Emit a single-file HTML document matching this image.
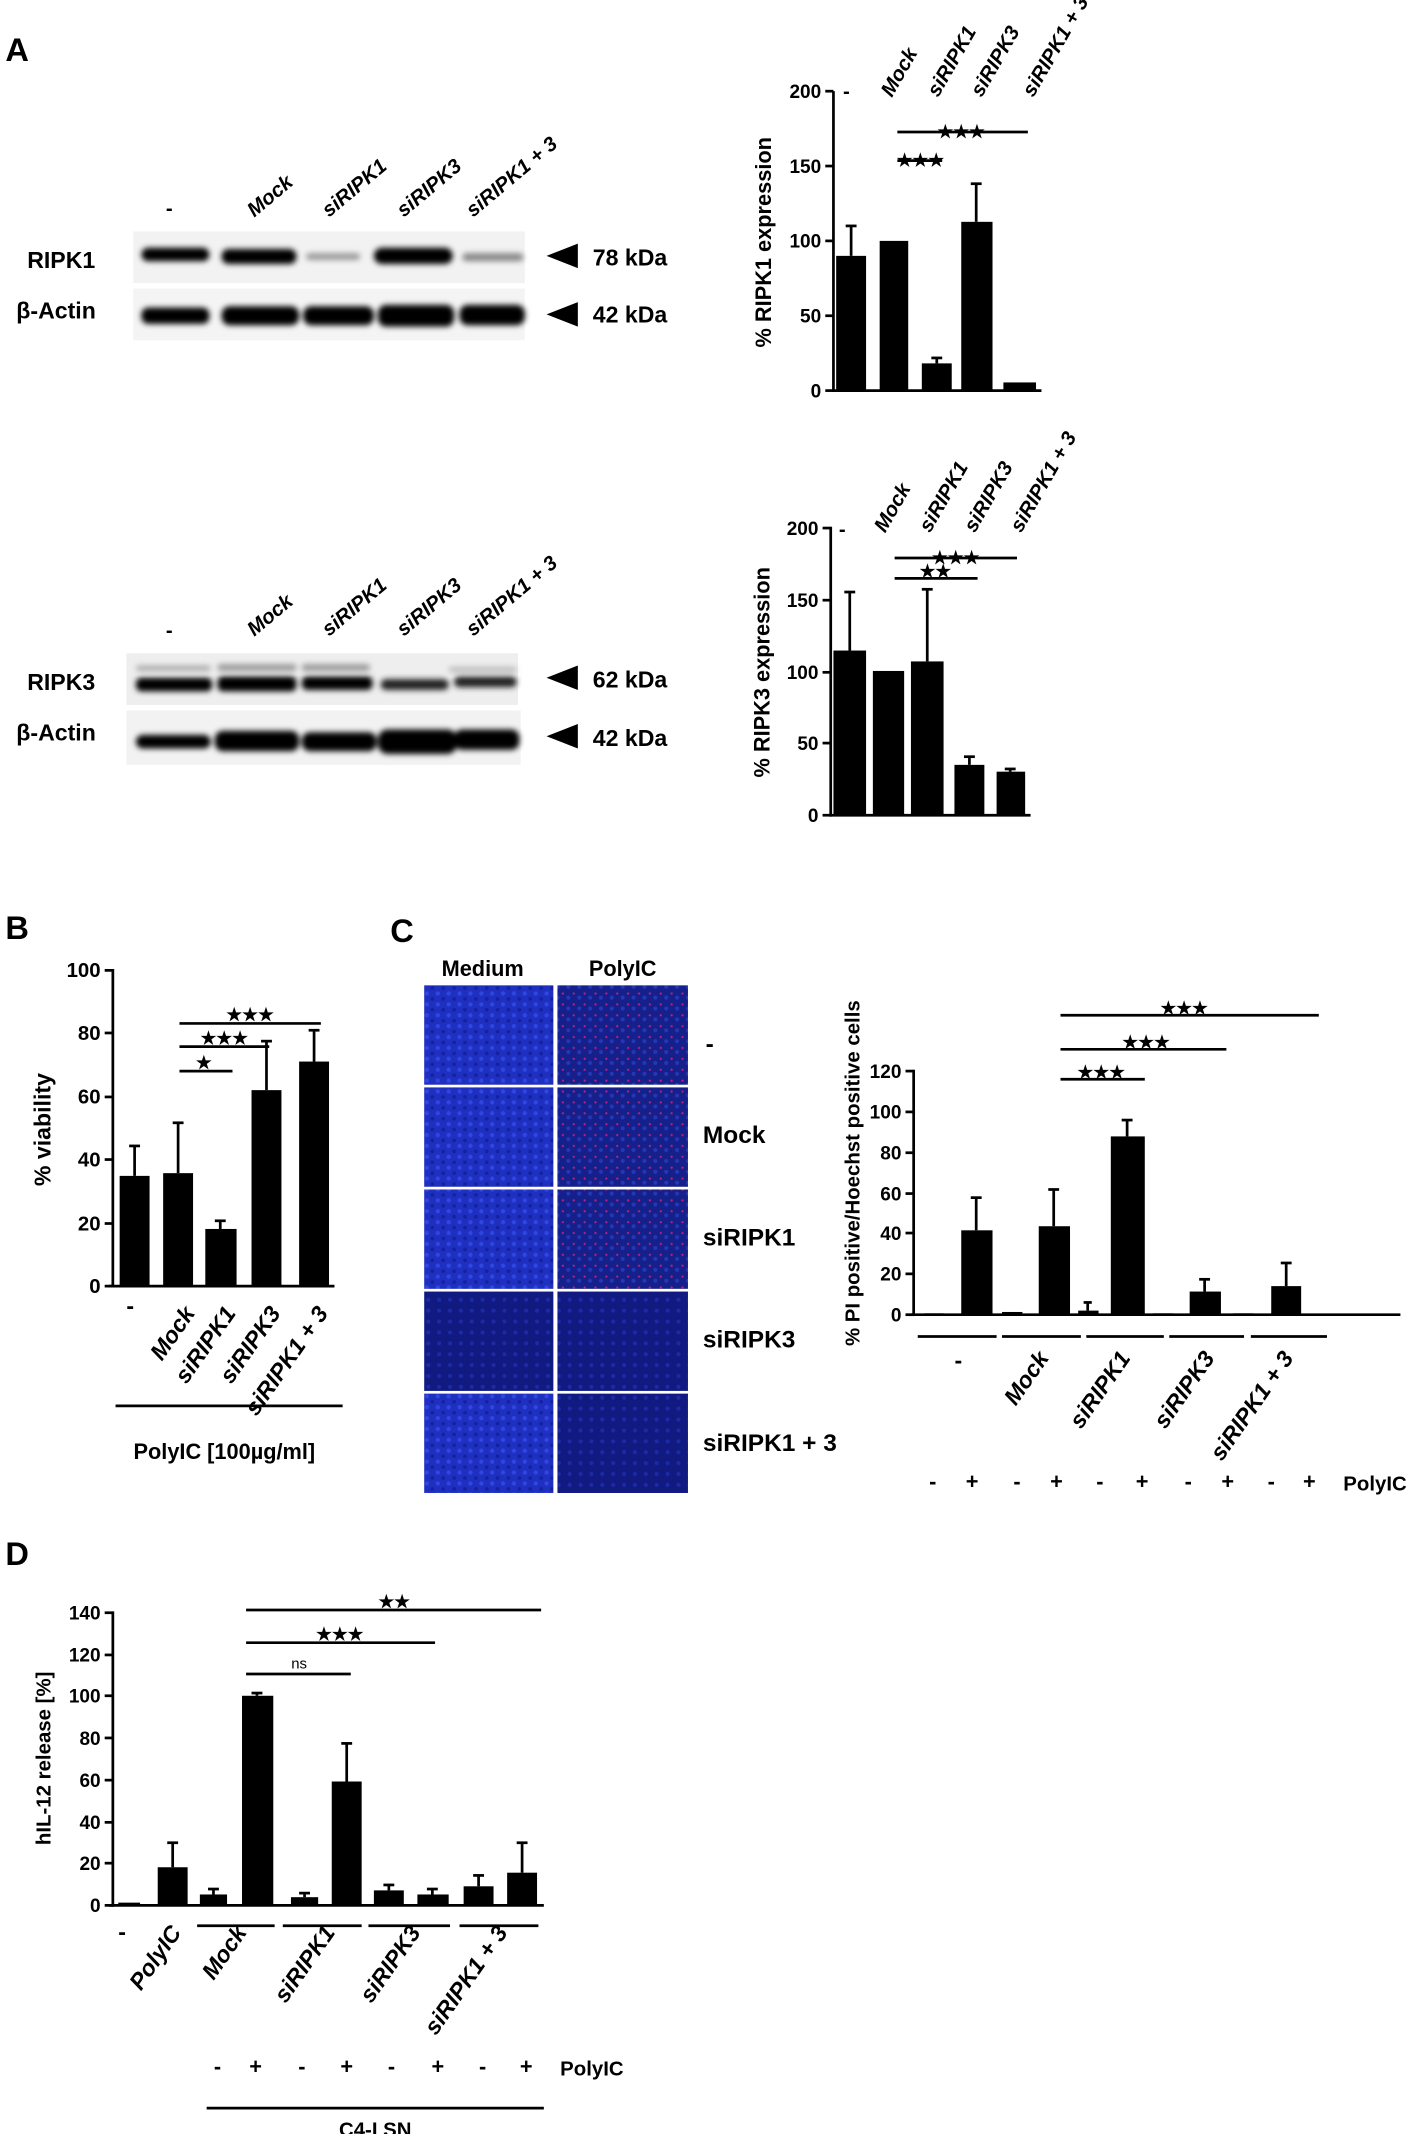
<!DOCTYPE html>
<html><head><meta charset="utf-8"><style>
html,body{margin:0;padding:0;background:#fff}
svg{display:block}
text{font-family:"Liberation Sans",Arial,sans-serif;font-weight:bold;fill:#000}
.it{font-style:italic}
</style></head><body>
<svg width="1414" height="2134" viewBox="0 0 1040 1568" preserveAspectRatio="none" xmlns="http://www.w3.org/2000/svg">
<defs>
<filter id="bl" x="-20%" y="-50%" width="140%" height="200%"><feGaussianBlur stdDeviation="2.2"/></filter>
<pattern id="cells" width="8" height="8" patternUnits="userSpaceOnUse"><rect width="8" height="8" fill="#1f2fc0"/><circle cx="2" cy="2" r="1.6" fill="#3046e0"/><circle cx="6" cy="6" r="1.4" fill="#1322a0"/></pattern>
<pattern id="cells2" width="8" height="8" patternUnits="userSpaceOnUse"><rect width="8" height="8" fill="#15208a"/><circle cx="2" cy="5" r="1.5" fill="#2536b8"/><circle cx="6" cy="2" r="0.8" fill="#c02080"/></pattern>
<pattern id="cells3" width="8" height="8" patternUnits="userSpaceOnUse"><rect width="8" height="8" fill="#101a80"/><circle cx="3" cy="3" r="1.5" fill="#1c2aa8"/></pattern>
</defs>

<!-- Panel A -->
<text x="4" y="45" font-size="24">A</text>
<g font-size="15">
<text x="122" y="158">-</text>
<text class="it" transform="translate(187,160) rotate(-40)">Mock</text>
<text class="it" transform="translate(242,160) rotate(-40)">siRIPK1</text>
<text class="it" transform="translate(297,160) rotate(-40)">siRIPK3</text>
<text class="it" transform="translate(348,160) rotate(-40)">siRIPK1 + 3</text>
</g>
<rect x="98" y="170" width="288" height="38" fill="#f2f2f2"/>
<rect x="98" y="212" width="288" height="38" fill="#f4f4f4"/>
<g filter="url(#bl)" fill="#000">
<rect x="104" y="182" width="50" height="10" rx="5"/>
<rect x="163" y="183" width="55" height="11" rx="5"/>
<rect x="225" y="186" width="40" height="5" rx="3" fill="#999"/>
<rect x="275" y="182" width="58" height="12" rx="6"/>
<rect x="340" y="186" width="45" height="6" rx="3" fill="#888"/>
<rect x="104" y="226" width="50" height="12" rx="5"/>
<rect x="163" y="225" width="57" height="14" rx="6"/>
<rect x="223" y="225" width="52" height="14" rx="6"/>
<rect x="278" y="224" width="56" height="16" rx="6"/>
<rect x="338" y="224" width="48" height="15" rx="6"/>
</g>
<g font-size="17">
<text x="20" y="197">RIPK1</text>
<text x="12" y="234">β-Actin</text>
<text x="436" y="195">78 kDa</text>
<text x="436" y="237">42 kDa</text>
</g>
<polygon points="402,188 425,179 425,197"/>
<polygon points="402,231 425,222 425,240"/>

<!-- blot 2 -->
<g font-size="15">
<text x="122" y="468">-</text>
<text class="it" transform="translate(187,468) rotate(-40)">Mock</text>
<text class="it" transform="translate(242,468) rotate(-40)">siRIPK1</text>
<text class="it" transform="translate(297,468) rotate(-40)">siRIPK3</text>
<text class="it" transform="translate(348,468) rotate(-40)">siRIPK1 + 3</text>
</g>
<rect x="93" y="480" width="288" height="38" fill="#eeeeee"/>
<rect x="93" y="522" width="290" height="40" fill="#f2f2f2"/>
<g filter="url(#bl)" fill="#000">
<rect x="100" y="489" width="55" height="4" rx="2" fill="#aaa"/>
<rect x="160" y="488" width="58" height="5" rx="2" fill="#999"/>
<rect x="222" y="488" width="50" height="5" rx="2" fill="#999"/>
<rect x="330" y="490" width="50" height="4" rx="2" fill="#bbb"/>
<rect x="100" y="498" width="56" height="10" rx="4"/>
<rect x="160" y="497" width="58" height="11" rx="4"/>
<rect x="222" y="497" width="52" height="10" rx="4"/>
<rect x="280" y="499" width="50" height="8" rx="4" fill="#222"/>
<rect x="334" y="497" width="46" height="8" rx="4" fill="#222"/>
<rect x="100" y="540" width="55" height="10" rx="5"/>
<rect x="158" y="537" width="62" height="15" rx="6"/>
<rect x="222" y="538" width="55" height="14" rx="6"/>
<rect x="278" y="536" width="58" height="18" rx="7"/>
<rect x="334" y="536" width="48" height="15" rx="6"/>
</g>
<g font-size="17">
<text x="20" y="507">RIPK3</text>
<text x="12" y="544">β-Actin</text>
<text x="436" y="505">62 kDa</text>
<text x="436" y="548">42 kDa</text>
</g>
<polygon points="402,498 425,489 425,507"/>
<polygon points="402,541 425,532 425,550"/>

<!-- Chart A1 -->
<g stroke="#000" stroke-width="2" fill="none">
<line x1="613" y1="67" x2="613" y2="288"/>
<line x1="612" y1="287" x2="766" y2="287"/>
<line x1="607" y1="67" x2="613" y2="67"/><line x1="607" y1="122" x2="613" y2="122"/><line x1="607" y1="177" x2="613" y2="177"/><line x1="607" y1="232" x2="613" y2="232"/><line x1="607" y1="287" x2="613" y2="287"/>
<line x1="660" y1="97" x2="756" y2="97"/><line x1="660" y1="118" x2="693" y2="118"/>
<line x1="626" y1="188" x2="626" y2="166"/><line x1="622" y1="166" x2="630" y2="166"/>
<line x1="718" y1="163" x2="718" y2="135"/><line x1="714" y1="135" x2="722" y2="135"/>
<line x1="689" y1="267" x2="689" y2="263"/><line x1="685" y1="263" x2="693" y2="263"/>
</g>
<g fill="#000">
<rect x="615" y="188" width="22" height="99"/>
<rect x="647" y="177" width="21" height="110"/>
<rect x="678" y="267" width="22" height="20"/>
<rect x="707" y="163" width="23" height="124"/>
<rect x="738" y="281" width="24" height="6"/>
</g>
<g font-size="14" text-anchor="end">
<text x="604" y="72">200</text><text x="604" y="127">150</text><text x="604" y="182">100</text><text x="604" y="237">50</text><text x="604" y="292">0</text>
</g>
<g font-size="13" text-anchor="middle"><text x="707" y="101">★★★</text><text x="677" y="122">★★★</text></g>
<text font-size="16" text-anchor="middle" transform="translate(567,178) rotate(-90)">% RIPK1 expression</text>
<g font-size="15">
<text x="620" y="72">-</text>
<text class="it" transform="translate(656,72) rotate(-60)">Mock</text>
<text class="it" transform="translate(690,72) rotate(-60)">siRIPK1</text>
<text class="it" transform="translate(722,72) rotate(-60)">siRIPK3</text>
<text class="it" transform="translate(760,72) rotate(-60)">siRIPK1 + 3</text>
</g>

<!-- Chart A2 -->
<g stroke="#000" stroke-width="2" fill="none">
<line x1="611" y1="387" x2="611" y2="600"/>
<line x1="610" y1="599" x2="758" y2="599"/>
<line x1="605" y1="388" x2="611" y2="388"/><line x1="605" y1="441" x2="611" y2="441"/><line x1="605" y1="494" x2="611" y2="494"/><line x1="605" y1="546" x2="611" y2="546"/><line x1="605" y1="599" x2="611" y2="599"/>
<line x1="658" y1="410" x2="748" y2="410"/><line x1="658" y1="425" x2="719" y2="425"/>
<line x1="625" y1="478" x2="625" y2="435"/><line x1="621" y1="435" x2="629" y2="435"/>
<line x1="682" y1="486" x2="682" y2="433"/><line x1="678" y1="433" x2="686" y2="433"/>
<line x1="713" y1="562" x2="713" y2="556"/><line x1="709" y1="556" x2="717" y2="556"/>
<line x1="743" y1="567" x2="743" y2="565"/><line x1="739" y1="565" x2="747" y2="565"/>
</g>
<g fill="#000">
<rect x="613" y="478" width="24" height="121"/>
<rect x="642" y="493" width="23" height="106"/>
<rect x="670" y="486" width="24" height="113"/>
<rect x="702" y="562" width="22" height="37"/>
<rect x="733" y="567" width="21" height="32"/>
</g>
<g font-size="14" text-anchor="end">
<text x="602" y="393">200</text><text x="602" y="446">150</text><text x="602" y="499">100</text><text x="602" y="551">50</text><text x="602" y="604">0</text>
</g>
<g font-size="13" text-anchor="middle"><text x="703" y="414">★★★</text><text x="688" y="424">★★</text></g>
<text font-size="16" text-anchor="middle" transform="translate(566,494) rotate(-90)">% RIPK3 expression</text>
<g font-size="15">
<text x="617" y="394">-</text>
<text class="it" transform="translate(651,392) rotate(-60)">Mock</text>
<text class="it" transform="translate(684,392) rotate(-60)">siRIPK1</text>
<text class="it" transform="translate(717,392) rotate(-60)">siRIPK3</text>
<text class="it" transform="translate(751,392) rotate(-60)">siRIPK1 + 3</text>
</g>

<!-- Panel B -->
<text x="4" y="690" font-size="24">B</text>
<g stroke="#000" stroke-width="2" fill="none">
<line x1="83" y1="712" x2="83" y2="946"/>
<line x1="80" y1="945" x2="246" y2="945"/>
<line x1="77" y1="713" x2="83" y2="713"/><line x1="77" y1="759" x2="83" y2="759"/><line x1="77" y1="806" x2="83" y2="806"/><line x1="77" y1="852" x2="83" y2="852"/><line x1="77" y1="899" x2="83" y2="899"/><line x1="77" y1="945" x2="83" y2="945"/>
<line x1="132" y1="752" x2="236" y2="752"/><line x1="132" y1="769" x2="198" y2="769"/><line x1="132" y1="787" x2="171" y2="787"/>
<line x1="99" y1="864" x2="99" y2="842"/><line x1="95" y1="842" x2="103" y2="842"/>
<line x1="131" y1="862" x2="131" y2="825"/><line x1="127" y1="825" x2="135" y2="825"/>
<line x1="162" y1="903" x2="162" y2="897"/><line x1="158" y1="897" x2="166" y2="897"/>
<line x1="196" y1="801" x2="196" y2="765"/><line x1="192" y1="765" x2="200" y2="765"/>
<line x1="231" y1="780" x2="231" y2="757"/><line x1="227" y1="757" x2="235" y2="757"/>
<line x1="85" y1="1033" x2="252" y2="1033"/>
</g>
<g fill="#000">
<rect x="88" y="864" width="22" height="81"/>
<rect x="120" y="862" width="22" height="83"/>
<rect x="151" y="903" width="23" height="42"/>
<rect x="185" y="801" width="22" height="144"/>
<rect x="220" y="780" width="22" height="165"/>
</g>
<g font-size="15" text-anchor="end">
<text x="74" y="718">100</text><text x="74" y="764">80</text><text x="74" y="811">60</text><text x="74" y="857">40</text><text x="74" y="904">20</text><text x="74" y="950">0</text>
</g>
<g font-size="13" text-anchor="middle"><text x="184" y="750">★★★</text><text x="165" y="767">★★★</text><text x="150" y="785">★</text></g>
<text font-size="17" text-anchor="middle" transform="translate(37,830) rotate(-90)">% viability</text>
<g font-size="17">
<text x="93" y="965">-</text>
<text class="it" text-anchor="end" transform="translate(144,965) rotate(-55)">Mock</text>
<text class="it" text-anchor="end" transform="translate(174,965) rotate(-55)">siRIPK1</text>
<text class="it" text-anchor="end" transform="translate(207,965) rotate(-55)">siRIPK3</text>
<text class="it" text-anchor="end" transform="translate(242,965) rotate(-55)">siRIPK1 + 3</text>
</g>
<text x="165" y="1072" font-size="16" text-anchor="middle">PolyIC [100µg/ml]</text>

<!-- Panel C -->
<text x="287" y="692" font-size="24">C</text>
<text x="355" y="717" font-size="16" text-anchor="middle">Medium</text>
<text x="458" y="717" font-size="16" text-anchor="middle">PolyIC</text>
<rect x="311" y="723" width="196" height="375" fill="#fff"/>
<rect x="312" y="724" width="95" height="73" fill="url(#cells)"/>
<rect x="410" y="724" width="96" height="73" fill="url(#cells2)"/>
<rect x="312" y="799" width="95" height="73" fill="url(#cells)"/>
<rect x="410" y="799" width="96" height="73" fill="url(#cells2)"/>
<rect x="312" y="874" width="95" height="73" fill="url(#cells)"/>
<rect x="410" y="874" width="96" height="73" fill="url(#cells2)"/>
<rect x="312" y="949" width="95" height="73" fill="url(#cells3)"/>
<rect x="410" y="949" width="96" height="73" fill="url(#cells3)"/>
<rect x="312" y="1024" width="95" height="73" fill="url(#cells)"/>
<rect x="410" y="1024" width="96" height="73" fill="url(#cells3)"/>
<g font-size="18">
<text x="519" y="773">-</text>
<text x="517" y="840">Mock</text>
<text x="517" y="915">siRIPK1</text>
<text x="517" y="990">siRIPK3</text>
<text x="517" y="1066">siRIPK1 + 3</text>
</g>
<g stroke="#000" stroke-width="2" fill="none">
<line x1="672" y1="786" x2="672" y2="967"/>
<line x1="670" y1="966" x2="1030" y2="966"/>
<line x1="666" y1="787" x2="672" y2="787"/><line x1="666" y1="817" x2="672" y2="817"/><line x1="666" y1="847" x2="672" y2="847"/><line x1="666" y1="877" x2="672" y2="877"/><line x1="666" y1="906" x2="672" y2="906"/><line x1="666" y1="936" x2="672" y2="936"/><line x1="666" y1="966" x2="672" y2="966"/>
<line x1="780" y1="746" x2="970" y2="746"/><line x1="780" y1="771" x2="902" y2="771"/><line x1="780" y1="793" x2="842" y2="793"/>
<line x1="718" y1="904" x2="718" y2="880"/><line x1="714" y1="880" x2="722" y2="880"/>
<line x1="775" y1="901" x2="775" y2="874"/><line x1="771" y1="874" x2="779" y2="874"/>
<line x1="800" y1="963" x2="800" y2="957"/><line x1="797" y1="957" x2="803" y2="957"/>
<line x1="829" y1="835" x2="829" y2="823"/><line x1="825" y1="823" x2="833" y2="823"/>
<line x1="886" y1="949" x2="886" y2="940"/><line x1="882" y1="940" x2="890" y2="940"/>
<line x1="946" y1="945" x2="946" y2="928"/><line x1="942" y1="928" x2="950" y2="928"/>
<line x1="675" y1="982" x2="733" y2="982"/><line x1="737" y1="982" x2="795" y2="982"/><line x1="799" y1="982" x2="856" y2="982"/><line x1="860" y1="982" x2="915" y2="982"/><line x1="920" y1="982" x2="976" y2="982"/>
</g>
<g fill="#000">
<rect x="680" y="965" width="14" height="1"/>
<rect x="707" y="904" width="23" height="62"/>
<rect x="737" y="964" width="15" height="2"/>
<rect x="764" y="901" width="23" height="65"/>
<rect x="793" y="963" width="15" height="3"/>
<rect x="817" y="835" width="25" height="131"/>
<rect x="848" y="965" width="15" height="1"/>
<rect x="875" y="949" width="23" height="17"/>
<rect x="907" y="965" width="15" height="1"/>
<rect x="935" y="945" width="22" height="21"/>
</g>
<g font-size="14" text-anchor="end">
<text x="663" y="792">120</text><text x="663" y="822">100</text><text x="663" y="852">80</text><text x="663" y="882">60</text><text x="663" y="911">40</text><text x="663" y="941">20</text><text x="663" y="971">0</text>
</g>
<g font-size="13" text-anchor="middle"><text x="871" y="745">★★★</text><text x="843" y="770">★★★</text><text x="810" y="792">★★★</text></g>
<text font-size="15" text-anchor="middle" transform="translate(632,862) rotate(-90)">% PI positive/Hoechst positive cells</text>
<g font-size="17">
<text x="702" y="1005">-</text>
<text class="it" text-anchor="end" transform="translate(772,998) rotate(-55)">Mock</text>
<text class="it" text-anchor="end" transform="translate(832,998) rotate(-55)">siRIPK1</text>
<text class="it" text-anchor="end" transform="translate(894,998) rotate(-55)">siRIPK3</text>
<text class="it" text-anchor="end" transform="translate(952,998) rotate(-55)">siRIPK1 + 3</text>
</g>
<g font-size="16" text-anchor="middle">
<text x="686" y="1094">-</text><text x="715" y="1094">+</text><text x="748" y="1094">-</text><text x="777" y="1094">+</text><text x="809" y="1094">-</text><text x="840" y="1094">+</text><text x="874" y="1094">-</text><text x="903" y="1094">+</text><text x="935" y="1094">-</text><text x="963" y="1094">+</text>
</g>
<text x="988" y="1095" font-size="15">PolyIC</text>

<!-- Panel D -->
<text x="4" y="1150" font-size="24">D</text>
<g stroke="#000" stroke-width="2" fill="none">
<line x1="83" y1="1184" x2="83" y2="1401"/>
<line x1="80" y1="1400" x2="400" y2="1400"/>
<line x1="77" y1="1185" x2="83" y2="1185"/><line x1="77" y1="1216" x2="83" y2="1216"/><line x1="77" y1="1246" x2="83" y2="1246"/><line x1="77" y1="1277" x2="83" y2="1277"/><line x1="77" y1="1308" x2="83" y2="1308"/><line x1="77" y1="1339" x2="83" y2="1339"/><line x1="77" y1="1369" x2="83" y2="1369"/><line x1="77" y1="1400" x2="83" y2="1400"/>
<line x1="181" y1="1183" x2="398" y2="1183"/><line x1="181" y1="1207" x2="320" y2="1207"/><line x1="181" y1="1230" x2="258" y2="1230"/>
<line x1="127" y1="1372" x2="127" y2="1354"/><line x1="123" y1="1354" x2="131" y2="1354"/>
<line x1="157" y1="1392" x2="157" y2="1388"/><line x1="153" y1="1388" x2="161" y2="1388"/>
<line x1="189" y1="1246" x2="189" y2="1244"/><line x1="185" y1="1244" x2="193" y2="1244"/>
<line x1="224" y1="1394" x2="224" y2="1391"/><line x1="220" y1="1391" x2="228" y2="1391"/>
<line x1="255" y1="1309" x2="255" y2="1281"/><line x1="251" y1="1281" x2="259" y2="1281"/>
<line x1="286" y1="1389" x2="286" y2="1385"/><line x1="282" y1="1385" x2="290" y2="1385"/>
<line x1="318" y1="1392" x2="318" y2="1388"/><line x1="314" y1="1388" x2="322" y2="1388"/>
<line x1="352" y1="1386" x2="352" y2="1378"/><line x1="348" y1="1378" x2="356" y2="1378"/>
<line x1="384" y1="1376" x2="384" y2="1354"/><line x1="380" y1="1354" x2="388" y2="1354"/>
<line x1="145" y1="1415" x2="202" y2="1415"/><line x1="208" y1="1415" x2="266" y2="1415"/><line x1="271" y1="1415" x2="331" y2="1415"/><line x1="338" y1="1415" x2="396" y2="1415"/>
<line x1="152" y1="1549" x2="400" y2="1549"/>
</g>
<g fill="#000">
<rect x="87" y="1398" width="16" height="2"/>
<rect x="116" y="1372" width="22" height="28"/>
<rect x="147" y="1392" width="20" height="8"/>
<rect x="178" y="1246" width="23" height="154"/>
<rect x="214" y="1394" width="20" height="6"/>
<rect x="244" y="1309" width="22" height="91"/>
<rect x="275" y="1389" width="22" height="11"/>
<rect x="307" y="1392" width="23" height="8"/>
<rect x="341" y="1386" width="22" height="14"/>
<rect x="373" y="1376" width="22" height="24"/>
</g>
<g font-size="14" text-anchor="end">
<text x="74" y="1190">140</text><text x="74" y="1221">120</text><text x="74" y="1251">100</text><text x="74" y="1282">80</text><text x="74" y="1313">60</text><text x="74" y="1344">40</text><text x="74" y="1374">20</text><text x="74" y="1405">0</text>
</g>
<g font-size="13" text-anchor="middle"><text x="290" y="1181">★★</text><text x="250" y="1205">★★★</text></g>
<text x="220" y="1226" font-size="11" text-anchor="middle" style="font-weight:normal">ns</text>
<text font-size="15" text-anchor="middle" transform="translate(37,1292) rotate(-90)">hIL-12 release [%]</text>
<g font-size="17">
<text x="87" y="1425">-</text>
<text class="it" text-anchor="end" transform="translate(134,1420) rotate(-55)">PolyIC</text>
<text class="it" text-anchor="end" transform="translate(182,1420) rotate(-55)">Mock</text>
<text class="it" text-anchor="end" transform="translate(247,1420) rotate(-55)">siRIPK1</text>
<text class="it" text-anchor="end" transform="translate(310,1420) rotate(-55)">siRIPK3</text>
<text class="it" text-anchor="end" transform="translate(374,1420) rotate(-55)">siRIPK1 + 3</text>
</g>
<g font-size="16" text-anchor="middle">
<text x="160" y="1524">-</text><text x="188" y="1524">+</text><text x="222" y="1524">-</text><text x="255" y="1524">+</text><text x="288" y="1524">-</text><text x="322" y="1524">+</text><text x="355" y="1524">-</text><text x="387" y="1524">+</text>
</g>
<text x="412" y="1525" font-size="15">PolyIC</text>
<text x="276" y="1570" font-size="15" text-anchor="middle">C4-I SN</text>
</svg>
</body></html>
